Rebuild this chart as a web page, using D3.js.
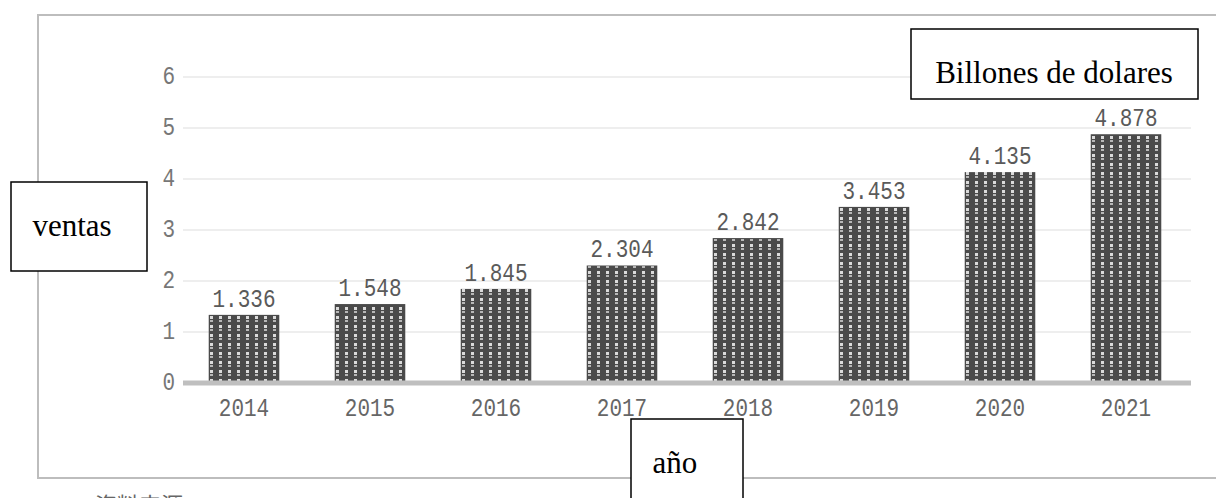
<!DOCTYPE html>
<html><head><meta charset="utf-8">
<script src="https://cdn.jsdelivr.net/npm/d3@7"></script>
<style>html,body{margin:0;padding:0;background:#fff;overflow:hidden}</style>
</head><body>
<script>
const years = ["2014","2015","2016","2017","2018","2019","2020","2021"];
const sales = [1.336,1.548,1.845,2.304,2.842,3.453,4.135,4.878];
const yTicks = [0,1,2,3,4,5,6];
const valueLabels = ["1.336","1.548","1.845","2.304","2.842","3.453","4.135","4.878"];
const unitLabel = "Billones de dolares";
const yTitle = "ventas";
const xTitle = "año";
const sourceNote = "资料来源：";

const W = 1216, H = 498;
const svg = d3.select("body").append("svg").attr("width", W).attr("height", H);

const defs = svg.append("defs");
const pat = defs.append("pattern").attr("id","hatch").attr("patternUnits","userSpaceOnUse")
  .attr("width",9).attr("height",9);
pat.append("rect").attr("width",9).attr("height",9).attr("fill","#4a4a4a");
pat.append("rect").attr("x",3).attr("y",1).attr("width",3).attr("height",3).attr("fill","#fff").attr("opacity",0.8);
pat.append("rect").attr("x",3).attr("y",5).attr("width",3).attr("height",2).attr("fill","#fff").attr("opacity",0.6);

// outer frame
svg.append("rect").attr("x",38).attr("y",15).attr("width",1250).attr("height",463)
  .attr("fill","none").attr("stroke","#bdbdbd").attr("stroke-width",2);

const x = d3.scaleBand().domain(years).range([181,1189]).paddingInner(0.44).paddingOuter(0.22);
const y = d3.scaleLinear().domain([0,6]).range([383,77]);

const mono = "'Liberation Mono', 'DejaVu Sans Mono', monospace";
const stretch = "scale(1,1.22)";

// gridlines
svg.append("g").selectAll("line").data(yTicks.filter(d=>d>0)).join("line")
  .attr("x1",183).attr("x2",1191).attr("y1",d=>y(d)).attr("y2",d=>y(d))
  .attr("stroke","#eeeeee").attr("stroke-width",2);

// y axis labels
const yAxis = d3.axisLeft(y).tickValues(yTicks).tickSize(0).tickPadding(0).tickFormat(d3.format("d"));
const ya = svg.append("g").attr("transform","translate(175,0)").call(yAxis);
ya.select(".domain").remove();
ya.selectAll(".tick").attr("transform", d => `translate(0,${y(d)+7})`);
ya.selectAll("text").attr("font-family",mono).attr("font-size",21).attr("fill","#777")
  .attr("dy",0).attr("transform",stretch);

// bars
svg.append("g").selectAll("rect").data(years).join("rect")
  .attr("x",d=>x(d)).attr("width",x.bandwidth())
  .attr("y",(d,i)=>y(sales[i])).attr("height",(d,i)=>y(0)-y(sales[i]))
  .attr("fill","url(#hatch)");

// value labels
svg.append("g").selectAll("text").data(years).join("text")
  .attr("transform",(d,i)=>`translate(${x(d)+x.bandwidth()/2},${y(sales[i])-8}) ${stretch}`)
  .attr("text-anchor","middle").attr("font-family",mono).attr("font-size",21).attr("fill","#5a5a5a")
  .text((d,i)=>valueLabels[i]);

// baseline
svg.append("line").attr("x1",183).attr("x2",1191).attr("y1",y(0)).attr("y2",y(0))
  .attr("stroke","#bfbfbf").attr("stroke-width",5);

// x axis labels
const xAxis = d3.axisBottom(x).tickSize(0).tickPadding(0);
const xa = svg.append("g").attr("transform","translate(0,416)").call(xAxis);
xa.select(".domain").remove();
xa.selectAll("text").attr("font-family",mono).attr("font-size",21).attr("fill","#666")
  .attr("y",0).attr("dy",0).attr("transform",stretch);

// source note (cut off at the bottom edge, as in the reference)
svg.append("text").attr("x",95).attr("y",513).attr("font-family","'Noto Sans CJK SC'")
  .attr("font-size",22).attr("fill","#666").text(sourceNote);

// annotation boxes
const serif = "'Liberation Serif', 'Times New Roman', serif";
function box(bx,by,bw,bh,tx,ty,label){
  svg.append("rect").attr("x",bx).attr("y",by).attr("width",bw).attr("height",bh)
    .attr("fill","#fff").attr("stroke","#000").attr("stroke-width",1.5);
  svg.append("text").attr("x",tx).attr("y",ty).attr("text-anchor","middle")
    .attr("font-family",serif).attr("font-size",31).attr("fill","#000").text(label);
}
box(911,29,287,70,1054,83,unitLabel);
box(11,182,136,89,72,236,yTitle);
box(631,419,112,100,675,473,xTitle);
</script>
</body></html>
